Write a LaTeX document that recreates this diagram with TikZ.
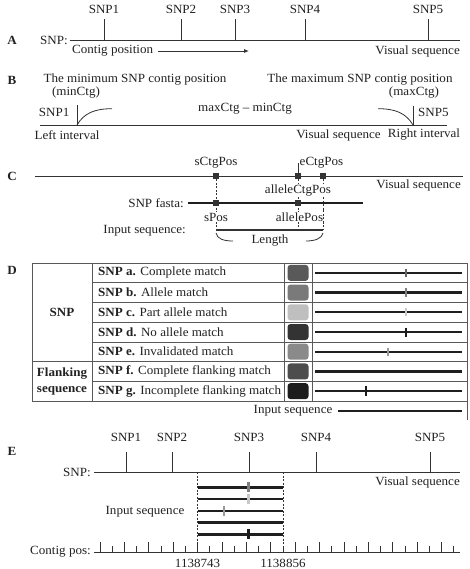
\documentclass[tikz,border=0pt]{standalone}
\usepackage{fontspec}
\setmainfont{Liberation Serif}[FakeStretch=1.045]
\usetikzlibrary{arrows.meta}
\definecolor{ink}{HTML}{222222}
\definecolor{ln}{HTML}{333333}
\definecolor{swa}{HTML}{595959}
\definecolor{swb}{HTML}{7A7A7A}
\definecolor{swc}{HTML}{BFBFBF}
\definecolor{swd}{HTML}{333333}
\definecolor{swe}{HTML}{8A8A8A}
\definecolor{swf}{HTML}{4D4D4D}
\definecolor{swg}{HTML}{1C1C1C}
\definecolor{mka}{HTML}{666666}
\definecolor{mkb}{HTML}{808080}
\definecolor{mkc}{HTML}{C8C8C8}
\definecolor{mkd}{HTML}{1A1A1A}
\definecolor{mke}{HTML}{999999}
\tikzset{
 lab/.style={font=\fontsize{12.5}{14}\selectfont, inner sep=0pt, text=ink},
 wlab/.style={lab, fill=white, inner sep=1pt},
 panel/.style={font=\fontsize{12.5}{14}\selectfont\bfseries, inner sep=0pt, text=ink},
 thinln/.style={draw=ln, line width=0.8pt},
 midln/.style={draw=ln, line width=1.5pt},
 thickln/.style={draw=black!88, line width=2.4pt},
 sqm/.style={fill=ln, draw=none, minimum size=6pt, inner sep=0pt},
 mk/.style={line width=2.4pt},
 sw/.style={rounded corners=3pt, draw=none, minimum width=21pt, minimum height=16pt, inner sep=0pt},
 dsh/.style={draw=ln, line width=0.5pt, dash pattern=on 2pt off 1.5pt},
 grid/.style={draw=black!65, line width=0.7pt},
}
\begin{document}
\begin{tikzpicture}[x=1pt,y=-1pt]
\useasboundingbox[fill=white] (0,0) rectangle (469,569);

% ---------- A ----------
\node[panel] (lA) at (12,40) {A};
\node[lab,anchor=east] (snpA) at (68,40) {SNP:};
\coordinate (aL) at (70,40); \coordinate (aR) at (460,40);
\draw[thinln] (aL) -- (aR);
\foreach \x/\n in {104/1,181/2,235/3,305/4,428/5}{
  \draw[thinln] (\x,40) -- (\x,19);
  \node[lab] (aS\n) at (\x,9) {SNP\n};
}
\node[lab,anchor=west] (cpos) at (72,51) {Contig position};
\coordinate (arrEnd) at (249,51);
\draw[thinln,-{Latex[length=5pt,width=4pt]}] ([xshift=5pt]cpos.east) -- (arrEnd);
\node[lab,anchor=east] (vsA) at (460,51) {Visual sequence};

% ---------- B ----------
\node[panel] (lB) at (12,80) {B};
\node[lab] (minT) at (135,80) {The minimum SNP contig position};
\node[lab] (minC) at (76,93) {(minCtg)};
\node[lab] (maxT) at (360,80) {The maximum SNP contig position};
\node[lab] (maxC) at (414,93) {(maxCtg)};
\coordinate (bL) at (40,125); \coordinate (bR) at (447,125);
\draw[thinln] (bL) -- (bR);
\coordinate (t1b) at (77,125); \coordinate (t1t) at (77,105);
\coordinate (t5b) at (413,125); \coordinate (t5t) at (413,106);
\draw[thinln] (t1b) -- (t1t);
\draw[thinln] (t5b) -- (t5t);
\draw[thinln] (t1b) .. controls (84,113) and (95,108.7) .. (112,108.7);
\draw[thinln] (378,108.7) .. controls (395,108.7) and (406,113) .. (t5b);
\node[lab,anchor=east] (bS1) at (69.5,112) {SNP1};
\node[lab,anchor=west] (bS5) at (418,112) {SNP5};
\node[lab] (diff) at (245,109) {maxCtg – minCtg};
\node[lab] (lint) at (67,135) {Left interval};
\node[lab] (vsB) at (338.5,135) {Visual sequence};
\node[lab] (rint) at (424,135) {Right interval};

% ---------- C ----------
\node[panel] (lC) at (12,176) {C};
\coordinate (cL) at (35,176); \coordinate (cR) at (463,176);
\draw[thinln] (cL) -- (cR);
\coordinate (s1) at (216,176); \coordinate (s2) at (298,176); \coordinate (s3) at (323,176);
\coordinate (i1) at (216,230); \coordinate (i2) at (298,230); \coordinate (i3) at (323,230);
\draw[dsh] (s1) -- (i1);
\draw[dsh] (s2) -- (i2);
\draw[dsh] (s3) -- (i3);
\draw[thinln] (s2) -- (298,163);
\node[lab] (sctg) at (216,162.7) {sCtgPos};
\node[lab,anchor=west] (ectg) at (299.5,162.7) {eCtgPos};
\node[wlab] (actg) at (298,190.7) {alleleCtgPos};
\node[lab,anchor=east] (vsC) at (461,185) {Visual sequence};
\node[lab,anchor=east] (fasta) at (184,203) {SNP fasta:};
\coordinate (fL) at (188,203); \coordinate (fR) at (363,203);
\draw[thickln] (fL) -- (fR);
\node[wlab] (spos) at (216,217) {sPos};
\node[wlab] (apos) at (299.5,217) {allelePos};
\draw[dsh] (323,210) -- (323,224);
\node[lab,anchor=east] (inpC) at (186,231) {Input sequence:};
\draw[midln] (i1) -- (i3);
\draw[thinln] (216,233) .. controls (217,239) and (224,241) .. (233,241);
\draw[thinln] (306,241) .. controls (315,241) and (322,238.5) .. (323,233);
\node[lab] (len) at (270,241) {Length};
\foreach \p in {s1,s2,s3} \node[sqm] at (\p) {};
\node[sqm] (fs1) at (216,203) {};
\node[sqm] (fs2) at (298,203) {};

% ---------- D ----------
\node[panel] (lD) at (12,270) {D};
\draw[grid] (32,263) rectangle (467,401);
\draw[grid] (92,263) -- (92,401);
\draw[grid] (284,263) -- (284,401);
\draw[grid] (312,263) -- (312,401);
\foreach \k in {1,2,3,4,6} \draw[grid] (92,{263+19.714*\k}) -- (467,{263+19.714*\k});
\draw[grid] (32,{263+19.714*5}) -- (467,{263+19.714*5});
\draw[grid] (467,401) -- (467,420);
\node[lab,font=\fontsize{12.5}{14}\selectfont\bfseries] (gSNP) at (62,312.3) {SNP};
\node[lab,font=\fontsize{12.5}{16}\selectfont\bfseries,align=center] (gFl) at (62,381.3) {Flanking\\sequence};
\foreach \i/\b/\t/\sc in {0/a/Complete match/swa,1/b/Allele match/swb,2/c/Part allele match/swc,3/d/No allele match/swd,4/e/Invalidated match/swe,5/f/Complete flanking match/swf,6/g/Incomplete flanking match/swg}{
  \pgfmathsetmacro{\yc}{263+19.714*(\i+0.5)}
  \node[lab,anchor=west] (dt\i) at (98,\yc) {\textbf{SNP \b.} \t};
  \node[sw,fill=\sc] (ds\i) at (298,\yc) {};
  \draw[thickln] (315,\yc) -- (461.5,\yc);
}
\foreach \i/\x/\c/\h in {0/406/mka/4.2,1/406/mkb/4.2,2/406/mkc/4.2,3/406/mkd/4.5,4/388/mke/4.2,6/366/mkd/4.8}{
  \pgfmathsetmacro{\yc}{263+19.714*(\i+0.5)}
  \draw[mk,draw=\c] (\x,\yc-\h) -- (\x,\yc+\h);
}
\node[lab] (inpD) at (293,411) {Input sequence};
\draw[thickln] (338,411) -- (461.5,411);

% ---------- E ----------
\node[panel] (lE) at (12,451) {E};
\node[lab,anchor=east] (snpE) at (91,472) {SNP:};
\coordinate (eL) at (94,472); \coordinate (eR) at (460,472);
\draw[thinln] (eL) -- (eR);
\foreach \x/\n in {126/1,172/2,249/3,316/4,430/5}{
  \draw[thinln] (\x,472) -- (\x,452);
  \node[lab] (eS\n) at (\x,437) {SNP\n};
}
\node[lab,anchor=east] (vsE) at (460,482) {Visual sequence};
\node[lab] (inpE) at (145,512) {Input sequence};
\pgfmathsetmacro{\xa}{100+12.2*8}
\pgfmathsetmacro{\xb}{100+12.2*15}
\draw[dsh] (\xa,472) -- (\xa,552);
\draw[dsh] (\xb,472) -- (\xb,552);
\foreach \y in {487.3,499,510.7,522.3,534.3} \draw[thickln] (\xa,\y) -- (\xb,\y);
\draw[mk,draw=mkb] (248.5,482.3) -- (248.5,492.3);
\draw[mk,draw=mkc] (248.5,494) -- (248.5,504);
\draw[mk,draw=mke] (224,505.7) -- (224,515.7);
\draw[mk,draw=mkd] (248.5,529.3) -- (248.5,539.3);
\node[lab,anchor=east] (cposE) at (91,552) {Contig pos:};
\coordinate (xL) at (94,552); \coordinate (xR) at (460,552);
\draw[thinln] (xL) -- (xR);
\foreach \i in {0,...,29}{
  \pgfmathsetmacro{\xx}{100+12.2*\i}
  \pgfmathsetmacro{\hh}{isodd(\i) ? 6 : 10}
  \draw[thinln] (\xx,552) -- (\xx,552-\hh);
}
\node[lab] (n1) at (\xa,563) {1138743};
\node[lab] (n2) at (\xb,563) {1138856};
\end{tikzpicture}
\end{document}
